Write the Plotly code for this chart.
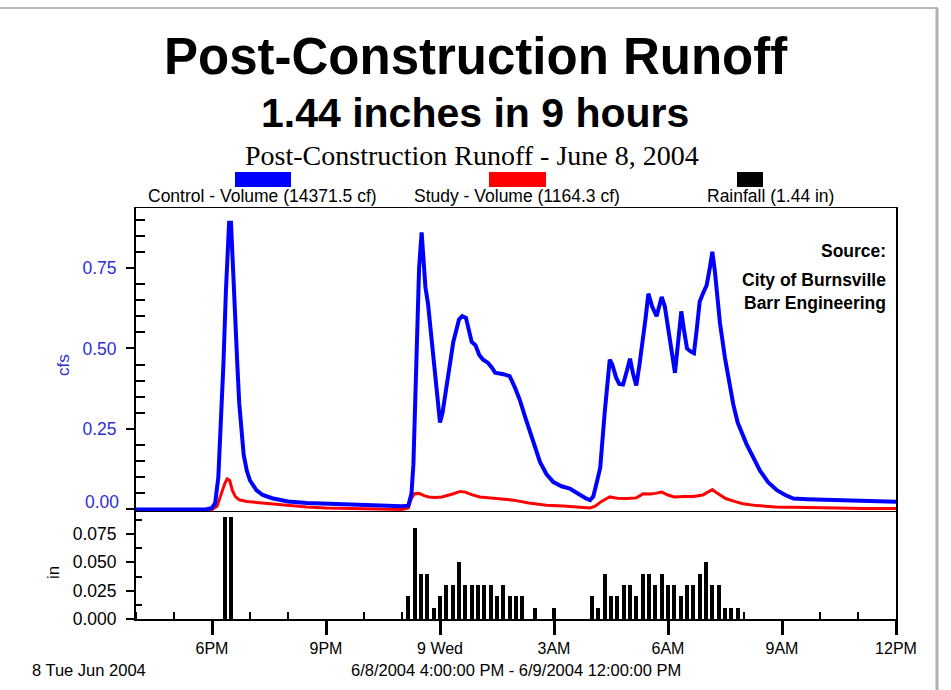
import pandas as pd
import plotly.graph_objects as go

# ---------------- data (minutes after 6/8/2004 4:00 PM) ----------------
control_min = [0, 60, 110, 120, 125, 130, 134, 138, 142, 145, 147, 150, 152, 153, 155, 157, 160,
               163, 166, 170, 175, 180, 190, 200, 215, 240, 270, 300, 340, 380, 420, 430, 435,
               438, 443, 447, 451, 454, 457, 461, 466, 472, 477, 480, 484, 490, 501, 510, 515,
               521, 526, 530, 536, 542, 548, 556, 562, 567, 580, 590, 598, 606, 614, 622, 630,
               638, 648, 659, 672, 685, 693, 701, 710, 717, 722, 727, 733, 740, 748, 752, 758,
               763, 769, 775, 780, 785, 790, 795, 801, 805, 809, 815, 822, 826, 830, 835, 840,
               846, 851, 856, 861, 865, 870, 876, 881, 886, 890, 895, 901, 906, 910, 914, 918,
               922, 930, 936, 943, 950, 957, 964, 975, 985, 998, 1012, 1025, 1038, 1060, 1090,
               1140, 1200]
control_cfs = [0.0, 0.0, 0.0, 0.005, 0.02, 0.10, 0.25, 0.45, 0.68, 0.83, 0.89, 0.89, 0.80, 0.70,
               0.63, 0.58, 0.45, 0.33, 0.25, 0.17, 0.12, 0.09, 0.06, 0.045, 0.035, 0.025, 0.02,
               0.018, 0.015, 0.012, 0.01, 0.012, 0.05, 0.14, 0.45, 0.75, 0.86, 0.76, 0.69, 0.64,
               0.55, 0.44, 0.33, 0.27, 0.30, 0.38, 0.52, 0.59, 0.60, 0.595, 0.55, 0.52, 0.51,
               0.48, 0.465, 0.455, 0.44, 0.425, 0.42, 0.414, 0.38, 0.34, 0.29, 0.24, 0.19, 0.147,
               0.11, 0.085, 0.072, 0.065, 0.055, 0.044, 0.035, 0.029, 0.04, 0.08, 0.13, 0.30,
               0.465, 0.45, 0.41, 0.39, 0.388, 0.43, 0.468, 0.42, 0.385, 0.45, 0.53, 0.60, 0.67,
               0.63, 0.60, 0.63, 0.66, 0.63, 0.56, 0.48, 0.424, 0.52, 0.615, 0.56, 0.50, 0.49,
               0.485, 0.57, 0.645, 0.67, 0.696, 0.75, 0.80, 0.74, 0.66, 0.58, 0.47, 0.40, 0.327,
               0.27, 0.235, 0.203, 0.16, 0.121, 0.085, 0.06, 0.045, 0.034, 0.032, 0.03, 0.027,
               0.024]

study_min = [0, 120, 128, 133, 140, 144, 148, 152, 157, 163, 175, 190, 210, 240, 270, 300, 360,
             420, 430, 435, 440, 447, 455, 462, 472, 483, 500, 512, 520, 530, 543, 560, 575, 596,
             620, 648, 675, 701, 717, 725, 735, 748, 760, 775, 790, 801, 812, 820, 830, 840, 850,
             865, 880, 895, 905, 910, 918, 931, 945, 958, 980, 1010, 1060, 1100, 1150, 1200]
study_cfs = [0.0, 0.0, 0.01, 0.04, 0.08, 0.095, 0.09, 0.06, 0.04, 0.03, 0.025, 0.022, 0.018,
             0.012, 0.008, 0.005, 0.003, 0.0, 0.005, 0.035, 0.049, 0.05, 0.043, 0.039, 0.037,
             0.039, 0.048, 0.056, 0.054, 0.046, 0.039, 0.036, 0.033, 0.029, 0.02, 0.013, 0.011,
             0.008, 0.005, 0.01, 0.025, 0.039, 0.035, 0.034, 0.036, 0.049, 0.048, 0.05, 0.054,
             0.045, 0.039, 0.040, 0.04, 0.045, 0.055, 0.062, 0.05, 0.034, 0.025, 0.018, 0.012,
             0.008, 0.006, 0.004, 0.003, 0.003]

rain_min = [140, 150, 430, 440, 450, 460, 470, 480, 490, 500, 510, 520, 530, 540, 550, 560, 570,
            580, 590, 600, 610, 630, 660, 720, 730, 740, 750, 760, 770, 780, 790, 800, 810, 820,
            830, 840, 850, 860, 870, 880, 890, 900, 910, 920, 930, 940, 950]
rain_in = [0.09, 0.09, 0.02, 0.08, 0.04, 0.04, 0.01, 0.02, 0.03, 0.03, 0.05, 0.03, 0.03, 0.03,
           0.03, 0.03, 0.02, 0.03, 0.02, 0.02, 0.02, 0.01, 0.01, 0.02, 0.01, 0.04, 0.02, 0.02,
           0.03, 0.03, 0.02, 0.04, 0.04, 0.03, 0.04, 0.03, 0.03, 0.02, 0.03, 0.03, 0.04, 0.05,
           0.03, 0.03, 0.01, 0.01, 0.01]

x_tick_hours = [2, 5, 8, 11, 14, 17, 20]
x_tick_labels = ["6PM", "9PM", "9 Wed", "3AM", "6AM", "9AM", "12PM"]
cfs_ticks = [0.25, 0.50, 0.75]
cfs_labels = ["0.25", "0.50", "0.75"]
in_ticks = [0.0, 0.025, 0.050, 0.075]
in_labels = ["0.000", "0.025", "0.050", "0.075"]

legend_names = ["Control - Volume (14371.5 cf)", "Study - Volume (1164.3 cf)", "Rainfall (1.44 in)"]

# ---------------- figure ----------------
W, H = 951, 690
L, R, T, B = 136, 896, 208, 619
SPLIT = 511


def px(x):
    return (x - L) / (R - L)


def py(y):
    return (B - y) / (B - T)


start = pd.Timestamp("2004-06-08 16:00")
end = pd.Timestamp("2004-06-09 12:00")


def tt(mins):
    return [start + pd.Timedelta(minutes=m) for m in mins]


BLUE_TXT = "#2f2fd0"
SANS = "Liberation Sans, Arial, sans-serif"
SERIF = "Liberation Serif, Times New Roman, serif"
TICK = 17.5
XTICK = 16

fig = go.Figure()
fig.add_trace(go.Scatter(x=tt(study_min), y=study_cfs, mode="lines",
                         line=dict(color="#ff0000", width=3), xaxis="x", yaxis="y",
                         name=legend_names[1]))
fig.add_trace(go.Scatter(x=tt(control_min), y=control_cfs, mode="lines",
                         line=dict(color="#0000ff", width=4), xaxis="x", yaxis="y",
                         name=legend_names[0]))
fig.add_trace(go.Bar(x=tt(rain_min), y=rain_in, marker=dict(color="black", line=dict(width=0)),
                     width=6.3 * 60000, xaxis="x2", yaxis="y2", name=legend_names[2]))

split_dom = py(SPLIT)
top_range = [-0.0047, 0.936]
bot_range = [0, 0.0953]

minor_hours = [start + pd.Timedelta(hours=h) for h in range(0, 21) if h not in x_tick_hours]

fig.update_layout(
    width=W, height=H,
    margin=dict(l=L, r=W - R, t=T, b=H - B, pad=0),
    paper_bgcolor="white", plot_bgcolor="white",
    showlegend=False,
    bargap=0,
    font=dict(family=SANS, size=16, color="black"),
    xaxis=dict(domain=[0, 1], anchor="y", type="date", range=[start, end],
               showticklabels=False, ticks="", showgrid=False, zeroline=False,
               showline=True, linecolor="black", linewidth=1, mirror=True),
    yaxis=dict(domain=[split_dom, 1], anchor="x", range=top_range,
               tickvals=[0.0] + cfs_ticks, ticktext=[""] + cfs_labels,
               tickfont=dict(family=SANS, size=TICK, color=BLUE_TXT),
               ticks="outside", ticklen=8, tickwidth=2, tickcolor="black",
               ticklabelstandoff=6,
               minor=dict(tickvals=[0.05, 0.1, 0.15, 0.2, 0.3, 0.35, 0.4, 0.45, 0.55, 0.6, 0.65,
                                    0.7, 0.8, 0.85, 0.9],
                          ticks="inside", ticklen=9, tickwidth=2, tickcolor="black"),
               showgrid=False, zeroline=False,
               showline=True, linecolor="black", linewidth=2, mirror=True),
    xaxis2=dict(domain=[0, 1], anchor="y2", type="date", range=[start, end],
                tickmode="array",
                tickvals=[start + pd.Timedelta(hours=h) for h in x_tick_hours],
                ticktext=x_tick_labels,
                tickfont=dict(family=SANS, size=XTICK, color="black"),
                ticks="outside", ticklen=14, tickwidth=3, tickcolor="black",
                ticklabelstandoff=0,
                minor=dict(tickvals=minor_hours, ticks="inside", ticklen=7, tickwidth=2,
                           tickcolor="black"),
                showgrid=False, zeroline=False,
                showline=True, linecolor="black", linewidth=2),
    yaxis2=dict(domain=[0, split_dom], anchor="x2", range=bot_range,
                tickvals=in_ticks, ticktext=in_labels,
                tickfont=dict(family=SANS, size=TICK, color="black"),
                ticks="outside", ticklen=8, tickwidth=2, tickcolor="black",
                ticklabelstandoff=6,
                minor=dict(tickvals=[0.0125, 0.0375, 0.0625, 0.0875], ticks="inside",
                           ticklen=6, tickwidth=2, tickcolor="black"),
                showgrid=False, zeroline=False,
                showline=True, linecolor="black", linewidth=2, mirror=True),
)

ann = []


def add_text(text, x, y, size, family=SANS, color="black", xanchor="center", bold=False,
             angle=0):
    if bold:
        text = "<b>" + text + "</b>"
    ann.append(dict(text=text, x=px(x), y=py(y), xref="paper", yref="paper",
                    xanchor=xanchor, yanchor="middle", showarrow=False, textangle=angle,
                    font=dict(family=family, size=size, color=color)))


add_text("Post-Construction Runoff", 476, 56, 51, bold=True)
add_text("1.44 inches in 9 hours", 475, 113, 41, bold=True)
add_text("Post-Construction Runoff - June 8, 2004", 472, 155, 28, family=SERIF)
add_text(legend_names[0], 262, 196, 17.5)
add_text(legend_names[1], 517, 196, 17.5)
add_text(legend_names[2], 770, 196, 17.5)
add_text("0.00", 121, 502, TICK, color=BLUE_TXT, xanchor="right")
add_text("cfs", 63, 365, 17, color=BLUE_TXT, angle=-90)
add_text("in", 53, 573, 17, angle=-90)
add_text("Source:", 888, 251, 17.5, xanchor="right", bold=True)
add_text("City of Burnsville", 888, 280, 17.5, xanchor="right", bold=True)
add_text("Barr Engineering", 888, 303, 17.5, xanchor="right", bold=True)
add_text("8 Tue Jun 2004", 30, 670, 16.5, xanchor="left")
add_text("6/8/2004 4:00:00 PM - 6/9/2004 12:00:00 PM", 516, 670, 16.5)
fig.update_layout(annotations=ann)

shapes = []
for (x0, x1, col) in [(235, 291, "#0000ff"), (489, 546, "#ff0000"), (737, 763, "#000000")]:
    shapes.append(dict(type="rect", xref="paper", yref="paper", x0=px(x0), x1=px(x1),
                       y0=py(187), y1=py(172), fillcolor=col, line=dict(width=0)))
# slide frame
shapes.append(dict(type="line", xref="paper", yref="paper", x0=px(0), x1=px(938),
                   y0=py(8), y1=py(8), line=dict(color="#b4bcbc", width=2)))
shapes.append(dict(type="line", xref="paper", yref="paper", x0=px(937), x1=px(937),
                   y0=py(8), y1=py(692), line=dict(color="#a9b2b2", width=3)))
fig.update_layout(shapes=shapes)

fig.write_html("out.html", config={"displayModeBar": False},
               post_script="document.body.style.margin='0';document.body.style.overflow='hidden';")
